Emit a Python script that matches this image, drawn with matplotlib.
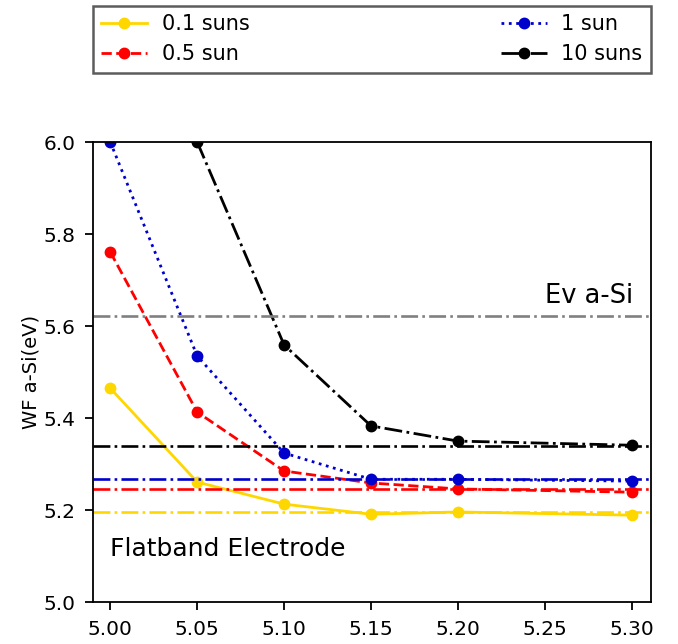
import matplotlib
matplotlib.use("Agg")
import matplotlib.pyplot as plt

x_all = [5.00, 5.05, 5.10, 5.15, 5.20, 5.30]
wf_01 = [5.465, 5.261, 5.213, 5.191, 5.196, 5.189]
wf_05 = [5.761, 5.413, 5.285, 5.259, 5.246, 5.239]
wf_1 = [6.000, 5.535, 5.324, 5.267, 5.267, 5.263]
x_10 = [5.05, 5.10, 5.15, 5.20, 5.30]
wf_10 = [6.000, 5.559, 5.383, 5.350, 5.341]

flat_01 = 5.196
flat_05 = 5.246
flat_1 = 5.268
flat_10 = 5.339
ev_asi = 5.622

labels = ["0.1 suns", "0.5 sun", "1 sun", "10 suns"]
c_y, c_r, c_b, c_k = "#FFD700", "#FF0000", "#0000CC", "#000000"

fig = plt.figure(figsize=(6.78, 6.44), dpi=100)
ax = fig.add_axes([0.137, 0.065, 0.823, 0.7145])

lw = 2.0
ms = 7.5
l1, = ax.plot(x_all, wf_01, '-', color=c_y, marker='o', lw=lw, ms=ms, label=labels[0])
l2, = ax.plot(x_all, wf_05, '--', color=c_r, marker='o', lw=lw, ms=ms, label=labels[1])
l3, = ax.plot(x_all, wf_1, ':', color=c_b, marker='o', lw=lw, ms=ms, label=labels[2])
l4, = ax.plot(x_10, wf_10, '-.', color=c_k, marker='o', lw=lw, ms=ms, label=labels[3])

hlw = 1.9
ax.axhline(ev_asi, color='gray', ls='-.', lw=hlw)
ax.axhline(flat_10, color=c_k, ls='-.', lw=hlw)
ax.axhline(flat_1, color=c_b, ls='-.', lw=hlw)
ax.axhline(flat_05, color=c_r, ls='-.', lw=hlw)
ax.axhline(flat_01, color=c_y, ls='-.', lw=hlw)

ax.text(5.25, 5.65, "Ev a-Si", fontsize=18.5, ha='left', va='baseline')
ax.text(5.0, 5.1, "Flatband Electrode", fontsize=18, ha='left', va='baseline')

ax.set_xlim(4.99, 5.311)
ax.set_ylim(5.0, 6.0)
ax.set_xticks([5.00, 5.05, 5.10, 5.15, 5.20, 5.25, 5.30])
ax.set_xticklabels(["5.00", "5.05", "5.10", "5.15", "5.20", "5.25", "5.30"])
ax.set_yticks([5.0, 5.2, 5.4, 5.6, 5.8, 6.0])
ax.set_yticklabels(["5.0", "5.2", "5.4", "5.6", "5.8", "6.0"])
ax.tick_params(labelsize=14.5, width=1.3, length=5.5, pad=7)
for s in ax.spines.values():
    s.set_linewidth(1.3)
ax.set_ylabel("WF a-Si(eV)", fontsize=14, labelpad=2)

leg = fig.legend(handles=[l1, l2, l3, l4], loc='lower left',
                 bbox_to_anchor=(0.137, 0.887, 0.823, 0.107), mode='expand',
                 ncol=2, fontsize=15, fancybox=False, frameon=True,
                 borderaxespad=0.0, handlelength=2.2, labelspacing=0.5,
                 handletextpad=0.7)
leg.get_frame().set_edgecolor('#333333')
leg.get_frame().set_linewidth(1.8)

fig.savefig("out.png", dpi=100)
